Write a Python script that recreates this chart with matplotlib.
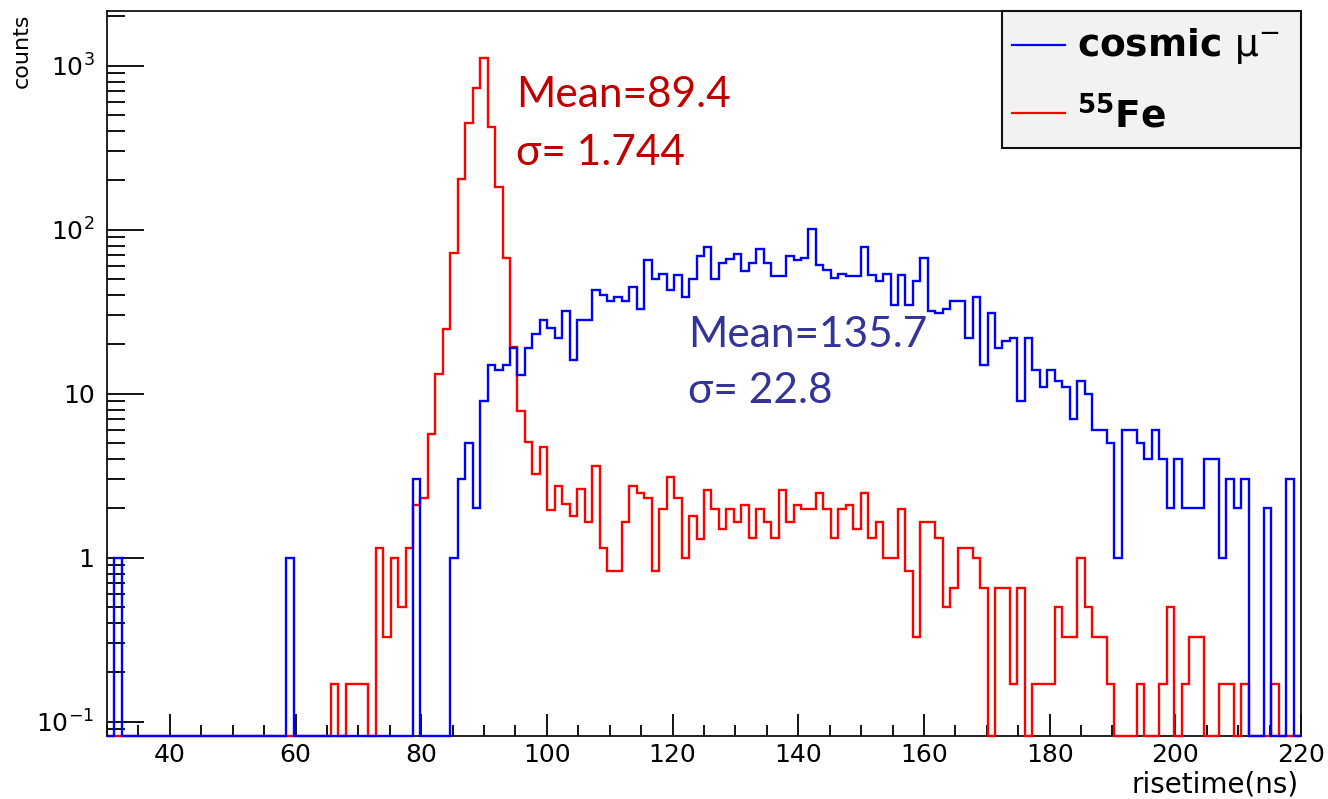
import numpy as np
import matplotlib
matplotlib.use("Agg")
import matplotlib.pyplot as plt
import matplotlib.ticker as ticker
from matplotlib.patches import Rectangle
from matplotlib.lines import Line2D

# rise time histograms: 160 bins from 30 to 220 ns
x_lo, x_hi, n_bins = 30.0, 220.0, 160
edges = np.linspace(x_lo, x_hi, n_bins + 1)

cosmic_counts = [
    0, 1, 0, 0, 0, 0, 0, 0, 0, 0,
    0, 0, 0, 0, 0, 0, 0, 0, 0, 0,
    0, 0, 0, 0, 1, 0, 0, 0, 0, 0,
    0, 0, 0, 0, 0, 0, 0, 0, 0, 0,
    0, 3, 0, 0, 0, 0, 1, 3, 5, 2,
    9, 15, 14, 15, 19, 13, 19, 23, 28, 25,
    22, 32, 16, 28, 28, 43, 40, 37, 39, 37,
    45, 33, 65, 50, 54, 43, 53, 39, 50, 69,
    79, 50, 63, 66, 71, 56, 63, 76, 63, 52,
    52, 69, 65, 67, 101, 61, 57, 51, 54, 52,
    52, 79, 53, 49, 54, 35, 53, 35, 49, 67,
    32, 31, 33, 37, 37, 22, 39, 15, 31, 19,
    21, 22, 9, 22, 14, 11, 14, 12, 11, 7,
    12, 10, 6, 6, 5, 1, 6, 6, 5, 4,
    6, 4, 2, 4, 2, 2, 2, 4, 4, 1,
    3, 2, 3, 0, 0, 2, 0, 0, 3, 0,
]

fe55_counts = [
    0, 0, 0, 0, 0, 0, 0, 0, 0, 0,
    0, 0, 0, 0, 0, 0, 0, 0, 0, 0,
    0, 0, 0, 0, 0, 0, 0, 0, 0, 0,
    0.17, 0, 0.17, 0.17, 0.17, 0, 1.15, 0.33, 1.0, 0.5,
    1.15, 2.1, 2.3, 5.7, 13.1, 24.8, 72, 205, 447, 732,
    1112, 425, 181, 67, 19.3, 7.9, 5.1, 3.25, 4.7, 1.95,
    2.75, 2.13, 1.8, 2.63, 1.66, 3.6, 1.14, 0.83, 0.83, 1.66,
    2.75, 2.48, 2.3, 0.83, 1.97, 3.1, 2.3, 1.0, 1.8, 1.3,
    2.6, 1.97, 1.5, 1.97, 1.66, 2.1, 1.31, 1.97, 1.66, 1.31,
    2.6, 1.66, 2.1, 1.97, 1.97, 2.48, 1.97, 1.31, 1.97, 2.1,
    1.5, 2.48, 1.31, 1.66, 1.0, 1.0, 1.97, 0.83, 0.33, 1.66,
    1.66, 1.31, 0.5, 0.65, 1.15, 1.15, 1.0, 0.65, 0, 0.65,
    0.65, 0.17, 0.65, 0, 0.17, 0.17, 0.17, 0.5, 0.33, 0.33,
    1.0, 0.5, 0.33, 0.33, 0.17, 0, 0, 0, 0.17, 0,
    0, 0.17, 0.5, 0, 0.17, 0.33, 0.33, 0, 0, 0.17,
    0.17, 0, 0.17, 0, 0, 0, 0.17, 0, 0, 0,
]

y_lo, y_hi = 0.0818, 2157.0

W, H = 1328, 799
fig = plt.figure(figsize=(W / 100, H / 100), dpi=100)


def fx(px):
    return px / W


def fy(py):
    return 1 - py / H


ax = fig.add_axes([fx(107), fy(736), (1301 - 107) / W, (736 - 11) / H])


def on_floor(v):
    # empty bins sit on the bottom of the frame, like ROOT does in log scale
    v = np.asarray(v, dtype=float)
    return np.where(v > 0, v, y_lo)


ax.stairs(on_floor(fe55_counts), edges, baseline=y_lo, color="#ff0000",
          lw=1.7, zorder=3, clip_on=False)
ax.stairs(on_floor(cosmic_counts), edges, baseline=y_lo, color="#0000ff",
          lw=1.7, zorder=4, clip_on=False)

ax.set_yscale("log")
ax.set_xlim(x_lo, x_hi)
ax.set_ylim(y_lo, y_hi)

ax.xaxis.set_major_locator(ticker.MultipleLocator(20))
ax.xaxis.set_minor_locator(ticker.MultipleLocator(5))
ax.yaxis.set_major_locator(ticker.FixedLocator([0.1, 1, 10, 100, 1000]))
ax.yaxis.set_major_formatter(ticker.FixedFormatter(
    ["$10^{-1}$", "1", "10", "$10^{2}$", "$10^{3}$"]))
ax.yaxis.set_minor_locator(ticker.LogLocator(base=10, subs=np.arange(2, 10), numticks=20))
ax.yaxis.set_minor_formatter(ticker.NullFormatter())

ax.tick_params(axis="x", which="major", direction="in", length=15.6, width=1.3,
               top=False, pad=5, labelsize=18)
ax.tick_params(axis="x", which="minor", direction="in", length=8, width=1.3, top=False)
ax.tick_params(axis="y", which="major", direction="in", length=26.6, width=1.3,
               right=False, pad=9, labelsize=18)
ax.tick_params(axis="y", which="minor", direction="in", length=13, width=1.3, right=False)
for s in ax.spines.values():
    s.set_linewidth(1.3)
    s.set_color("#111111")

# axis titles
fig.text(fx(22), fy(14), "counts", rotation=90, ha="center", va="top", fontsize=16)
fig.text(fx(1299), fy(792), "risetime(ns)", ha="right", va="baseline", fontsize=20)

# legend box
box = Rectangle((fx(1002), fy(148)), (1301 - 1002) / W, (148 - 11) / H,
                transform=fig.transFigure, facecolor="#f2f2f2", edgecolor="#111111",
                lw=1.5, zorder=6, clip_on=False)
fig.add_artist(box)
fig.add_artist(Line2D([fx(1012), fx(1065)], [fy(45), fy(45)], color="#0000ff", lw=1.6, zorder=7))
fig.add_artist(Line2D([fx(1012), fx(1065)], [fy(113), fy(113)], color="#ff0000", lw=1.6, zorder=7))
fig.text(fx(1077), fy(56), r"cosmic $\mathrm{\mu}^{-}$", fontsize=27, fontweight="bold",
         va="baseline", zorder=8)
fig.text(fx(1077), fy(127), r"$^{\mathbf{55}}$Fe", fontsize=27, fontweight="bold",
         va="baseline", zorder=8)

# fit results
red_txt = "#c00000"
blue_txt = "#333399"
fig.text(fx(516), fy(107), "Mean=89.4", color=red_txt, fontsize=30.5, family="Lato", va="baseline")
fig.text(fx(516), fy(165), "σ= 1.744", color=red_txt, fontsize=30.5, family="Lato", va="baseline")
fig.text(fx(688), fy(347), "Mean=135.7", color=blue_txt, fontsize=30.5, family="Lato", va="baseline")
fig.text(fx(688), fy(403), "σ= 22.8", color=blue_txt, fontsize=30.5, family="Lato", va="baseline")

fig.savefig("out.png", dpi=100)
